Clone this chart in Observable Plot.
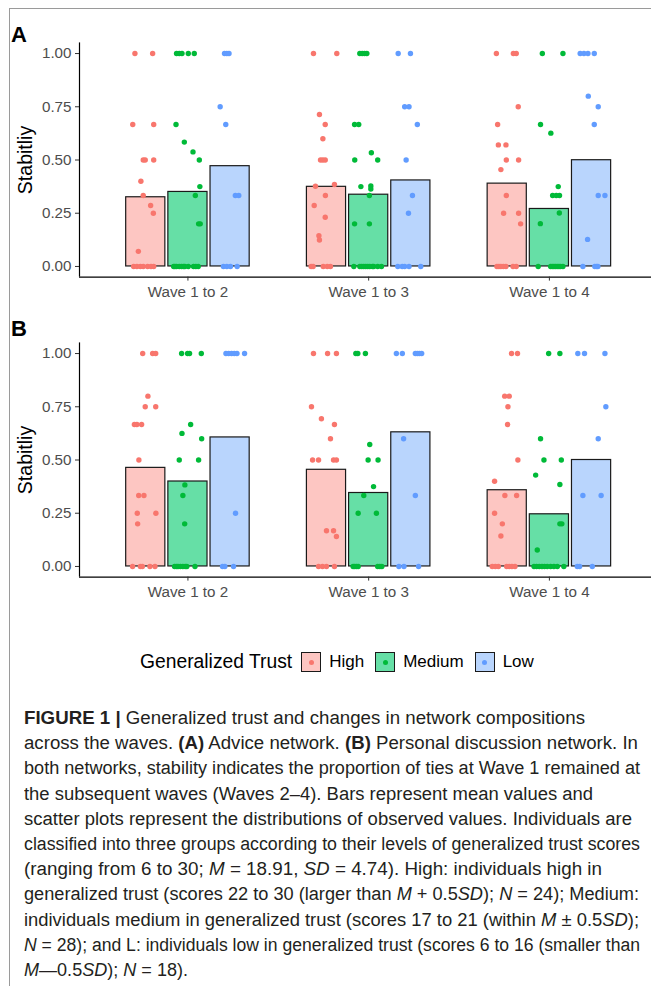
<!DOCTYPE html>
<html>
<head>
<meta charset="utf-8">
<script src="https://cdn.jsdelivr.net/npm/d3@7"></script>
<script src="https://cdn.jsdelivr.net/npm/@observablehq/plot@0.6"></script>
<style>
  html, body { margin: 0; padding: 0; background: #fff; overflow: hidden; }
  #page { position: relative; width: 651px; height: 986px; font-family: "Liberation Sans", Arial, Helvetica, sans-serif; }
  .frameTop { position: absolute; left: 9px; top: 8px; width: 642px; height: 1px; background: #9a9a9a; }
  .frameLeft { position: absolute; left: 9px; top: 8px; width: 1px; height: 978px; background: #9a9a9a; }
  .panel { position: absolute; left: 0; }
  .letter { position: absolute; left: 11px; font-weight: bold; font-size: 22px; line-height: 22px; color: #000; }
  #legend { position: absolute; left: 140px; top: 650px; height: 24px; display: flex; align-items: center; color: #000; }
  #legend .title { font-size: 19.3px; margin-right: 9px; }
  #legend .key { width: 20px; height: 20px; border: 1.3px solid #1a1a1a; position: relative; box-sizing: border-box; margin-right: 8px; }
  #legend .key span { position: absolute; left: 50%; top: 50%; width: 5px; height: 5px; margin: -2.5px 0 0 -2.5px; border-radius: 50%; }
  #legend .lab { font-size: 17px; margin-right: 11px; }
  #caption { position: absolute; left: 24px; top: 706px; font-size: 18px; line-height: 25.2px; color: #231f20; white-space: nowrap; }
  #caption div { display: block; height: 25.2px; }
  #caption div span.ln { display: inline-block; transform-origin: 0 50%; }
</style>
</head>
<body>
<div id="page">
  <div class="frameTop"></div>
  <div class="frameLeft"></div>
  <div id="panelA" class="panel" style="top:0px"></div>
  <div id="panelB" class="panel" style="top:300px"></div>
  <div class="letter" style="top:24px">A</div>
  <div class="letter" style="top:318px">B</div>
  <div id="legend"></div>
  <div id="caption">
    <div><span class="ln"><b>FIGURE 1 |</b> Generalized trust and changes in network compositions</span></div>
    <div><span class="ln">across the waves. <b>(A)</b> Advice network. <b>(B)</b> Personal discussion network. In</span></div>
    <div><span class="ln">both networks, stability indicates the proportion of ties at Wave 1 remained at</span></div>
    <div><span class="ln">the subsequent waves (Waves 2–4). Bars represent mean values and</span></div>
    <div><span class="ln">scatter plots represent the distributions of observed values. Individuals are</span></div>
    <div><span class="ln">classified into three groups according to their levels of generalized trust scores</span></div>
    <div><span class="ln">(ranging from 6 to 30; <i>M</i> = 18.91, <i>SD</i> = 4.74). High: individuals high in</span></div>
    <div><span class="ln">generalized trust (scores 22 to 30 (larger than <i>M</i> + 0.5<i>SD</i>); <i>N</i> = 24); Medium:</span></div>
    <div><span class="ln">individuals medium in generalized trust (scores 17 to 21 (within <i>M</i> ± 0.5<i>SD</i>);</span></div>
    <div><span class="ln"><i>N</i> = 28); and L: individuals low in generalized trust (scores 6 to 16 (smaller than</span></div>
    <div><span class="ln"><i>M</i>—0.5<i>SD</i>); <i>N</i> = 18).</span></div>
  </div>
</div>
<script>
// ---------------- data ----------------
const waves = ["Wave 1 to 2", "Wave 1 to 3", "Wave 1 to 4"];
const groups = ["High", "Medium", "Low"];
const legendTitle = "Generalized Trust";
const yLabel = "Stabitliy";
const yTicks = [0, 0.25, 0.5, 0.75, 1];

// bar heights (group means), per wave
const meansA_High   = [0.325, 0.374, 0.389];
const meansA_Medium = [0.350, 0.337, 0.270];
const meansA_Low    = [0.471, 0.404, 0.499];
const meansB_High   = [0.463, 0.454, 0.358];
const meansB_Medium = [0.399, 0.345, 0.245];
const meansB_Low    = [0.606, 0.630, 0.500];

// observed values per wave: [jitter (fraction of a category), stability]
const pointsA_High = [
  [[-0.060,1],[0.038,1],[-0.072,0.667],[0.044,0.667],[-0.014,0.5],[-0.003,0.5],[0.044,0.5],[-0.027,0.40],[-0.014,0.333],[0.027,0.286],[0.042,0.25],[-0.041,0.071],[-0.067,0],[-0.049,0],[-0.030,0],[-0.014,0],[0.010,0],[0.029,0],[0.044,0]],
  [[-0.072,1],[0.057,1],[-0.039,0.714],[-0.007,0.667],[-0.020,0.60],[-0.033,0.5],[-0.020,0.5],[-0.007,0.5],[-0.061,0.377],[0.044,0.385],[-0.006,0.333],[-0.068,0.286],[-0.007,0.231],[-0.042,0.144],[-0.039,0.124],[-0.085,0],[-0.074,0],[-0.018,0],[0.004,0],[0.022,0]],
  [[-0.060,1],[0.034,1],[0.050,1],[0.061,0.75],[-0.053,0.667],[-0.049,0.571],[-0.007,0.571],[-0.005,0.5],[0.063,0.5],[-0.035,0.455],[-0.005,0.333],[-0.020,0.25],[0.063,0.25],[0.074,0.2],[-0.057,0],[-0.046,0],[-0.035,0],[-0.022,0],[-0.007,0],[0.032,0],[0.050,0]]
];
const pointsA_Medium = [
  [[-0.063,1],[-0.048,1],[-0.033,1],[0.002,1],[0.035,1],[-0.066,0.667],[-0.020,0.584],[0.028,0.538],[0.063,0.5],[0.066,0.375],[0.041,0.333],[0.059,0.2],[0.068,0.2],[-0.079,0],[-0.072,0],[-0.063,0],[-0.048,0],[-0.035,0],[-0.024,0],[-0.017,0],[0.002,0],[0.031,0],[0.044,0],[0.057,0]],
  [[-0.049,1],[-0.036,1],[-0.023,1],[-0.010,1],[-0.078,0.667],[-0.055,0.667],[0.015,0.534],[-0.077,0.5],[0.050,0.5],[-0.043,0.375],[0.012,0.378],[0.012,0.364],[0.004,0.333],[-0.078,0.2],[0.004,0.2],[-0.082,0],[-0.049,0],[-0.038,0],[-0.027,0],[-0.016,0],[-0.005,0],[0.006,0],[0.021,0],[0.028,0],[0.050,0],[0.071,0]],
  [[-0.039,1],[0.075,1],[-0.049,0.667],[0.008,0.626],[0.049,0.375],[0.018,0.333],[0.038,0.333],[0.056,0.333],[0.055,0.251],[-0.050,0.201],[-0.062,0],[0.007,0],[0.016,0],[0.025,0],[0.034,0],[0.043,0],[0.053,0],[0.062,0],[0.075,0]]
];
const pointsA_Low = [
  [[-0.031,1],[-0.018,1],[-0.006,1],[-0.055,0.75],[-0.024,0.667],[0.029,0.333],[0.048,0.333],[-0.037,0],[-0.018,0],[0.002,0],[0.039,0]],
  [[-0.070,1],[-0.002,1],[-0.034,0.75],[-0.010,0.75],[0.036,0.667],[-0.026,0.5],[0.009,0.333],[-0.013,0.25],[-0.072,0],[-0.048,0],[-0.034,0],[-0.010,0],[0.055,0]],
  [[-0.063,1],[-0.042,1],[-0.020,1],[0.015,1],[-0.018,0.8],[0.037,0.75],[0.015,0.667],[0.037,0.333],[0.074,0.333],[-0.022,0.127],[-0.048,0],[0.018,0],[0.028,0],[0.035,0]]
];
const pointsB_High = [
  [[-0.017,1],[0.038,1],[0.055,1],[0.012,0.8],[-0.003,0.75],[0.055,0.75],[-0.063,0.667],[-0.049,0.667],[-0.023,0.667],[-0.038,0.5],[-0.039,0.333],[-0.010,0.333],[-0.047,0.25],[0.056,0.25],[-0.045,0.2],[-0.073,0],[-0.030,0],[-0.019,0],[0.023,0],[0.051,0]],
  [[-0.072,1],[0.006,1],[0.055,1],[-0.083,0.75],[-0.028,0.694],[0.044,0.667],[0.022,0.6],[-0.077,0.5],[-0.044,0.5],[0.039,0.5],[0.055,0.5],[0.000,0.168],[0.039,0.168],[0.055,0.141],[-0.044,0],[-0.022,0],[0.000,0],[0.044,0]],
  [[0.024,1],[0.057,1],[-0.014,0.8],[0.011,0.8],[0.004,0.75],[0.002,0.667],[0.059,0.5],[-0.070,0.4],[-0.013,0.333],[0.052,0.333],[-0.070,0.25],[-0.027,0.2],[-0.035,0.143],[-0.083,0],[-0.066,0],[-0.049,0],[-0.003,0],[0.011,0],[0.026,0],[0.043,0]]
];
const pointsB_Medium = [
  [[-0.035,1],[-0.002,1],[0.009,1],[0.074,1],[0.015,0.667],[-0.033,0.625],[0.076,0.6],[-0.048,0.5],[0.059,0.5],[-0.017,0.383],[-0.028,0.333],[-0.018,0.2],[-0.074,0],[-0.064,0],[-0.055,0],[-0.042,0],[-0.028,0],[-0.015,0],[-0.006,0],[0.039,0]],
  [[-0.071,1],[-0.060,1],[-0.018,1],[0.006,0.573],[-0.003,0.5],[0.052,0.5],[0.027,0.375],[-0.027,0.333],[-0.058,0.25],[0.043,0.25],[-0.086,0],[-0.077,0],[-0.067,0],[-0.058,0],[0.050,0],[0.062,0],[0.073,0]],
  [[-0.004,1],[0.058,1],[-0.049,0.6],[-0.030,0.5],[0.066,0.5],[-0.076,0.429],[0.058,0.385],[0.058,0.2],[0.069,0.2],[-0.067,0.077],[-0.085,0],[-0.071,0],[-0.056,0],[-0.041,0],[-0.027,0],[-0.012,0],[0.007,0],[0.025,0],[0.044,0],[0.080,0]]
];
const pointsB_Low = [
  [[-0.023,1],[-0.008,1],[0.008,1],[0.023,1],[0.038,1],[0.080,1],[0.030,0.25],[-0.042,0],[-0.029,0],[0.019,0]],
  [[-0.080,1],[-0.047,1],[0.025,1],[0.036,1],[0.047,1],[0.060,1],[-0.040,0.6],[0.025,0.333],[-0.066,0],[-0.038,0],[0.043,0]],
  [[-0.076,1],[-0.039,1],[0.074,1],[0.079,0.75],[0.037,0.6],[-0.048,0.333],[0.053,0.333],[-0.079,0],[-0.066,0],[0.004,0]]
];

// ---------------- styles ----------------
const pointColors = ["#F8766D", "#00BA38", "#619CFF"];
const barFills    = ["#FDC6C2", "#66DFA6", "#B9D5FD"];
const FONT = '"Liberation Sans", Arial, Helvetica, sans-serif';
const DODGE = 0.7 / 3;          // dodge width 0.7 split into 3 groups
const HALF = 0.65 / 3 / 2;      // bar width 0.65 (dodged)

function panel(means, points) {
  const bars = [], pts = [];
  groups.forEach((g, gi) => {
    means[gi].forEach((m, wi) => bars.push({group: g, gi, wave: wi + 1, mean: m}));
    points[gi].forEach((list, wi) => list.forEach(([j, v]) => pts.push({group: g, gi, wave: wi + 1, jitter: j, value: v})));
  });
  const cx = d => d.wave + (d.gi - 1) * DODGE;
  const marks = [];
  groups.forEach((g, gi) => {
    marks.push(Plot.rect(bars.filter(d => d.gi === gi), {
      x1: d => cx(d) - HALF, x2: d => cx(d) + HALF, y1: d => 0, y2: "mean",
      fill: barFills[gi], stroke: "#1a1a1a", strokeWidth: 1.2
    }));
  });
  groups.forEach((g, gi) => {
    marks.push(Plot.dot(pts.filter(d => d.gi === gi), {
      x: d => cx(d) + d.jitter, y: "value", r: 2.7, fill: pointColors[gi], stroke: "none"
    }));
  });
  const xMin = 0.4, xMax = 3.565, yMin = -0.05, yMax = 1.05;
  marks.push(
    Plot.ruleX([xMin], {stroke: "#000", strokeWidth: 1.2}),
    Plot.ruleY([yMin], {stroke: "#000", strokeWidth: 1.2}),
    Plot.axisY(yTicks, {tickSize: 4, tickPadding: 4, tickFormat: d3.format(".2f"), fontSize: 15.2, fill: "#4d4d4d", stroke: "#333", label: null}),
    Plot.axisX([1, 2, 3], {tickSize: 4, tickPadding: 5, tickFormat: i => waves[i - 1], fontSize: 15.2, fill: "#4d4d4d", stroke: "#333", label: null}),
    Plot.text([yLabel], {frameAnchor: "left", textAnchor: "middle", rotate: -90, dx: -54, fontSize: 19.5, fill: "#000"})
  );
  return Plot.plot({
    width: 651, height: 300,
    marginLeft: 79, marginRight: 0, marginTop: 42.4, marginBottom: 23.4,
    x: {domain: [xMin, xMax], axis: null},
    y: {domain: [yMin, yMax], axis: null},
    style: {fontFamily: FONT, background: "transparent", overflow: "visible"},
    marks
  });
}

document.getElementById("panelA").appendChild(panel([meansA_High, meansA_Medium, meansA_Low], [pointsA_High, pointsA_Medium, pointsA_Low]));
document.getElementById("panelB").appendChild(panel([meansB_High, meansB_Medium, meansB_Low], [pointsB_High, pointsB_Medium, pointsB_Low]));

// legend
const legend = document.getElementById("legend");
const t = document.createElement("div"); t.className = "title"; t.textContent = legendTitle; legend.appendChild(t);
groups.forEach((g, gi) => {
  const k = document.createElement("div"); k.className = "key"; k.style.background = barFills[gi];
  const s = document.createElement("span"); s.style.background = pointColors[gi]; k.appendChild(s);
  legend.appendChild(k);
  const l = document.createElement("div"); l.className = "lab"; l.textContent = g; legend.appendChild(l);
});

// caption: each line condensed to the width it has in the reference
const lineWidths = [561, 614, 616, 569, 608, 616, 578, 615, 615, 616, 164];
document.querySelectorAll("#caption span.ln").forEach((el, i) => {
  const w = el.getBoundingClientRect().width;
  el.style.transform = `scaleX(${lineWidths[i] / w})`;
});
</script>
</body>
</html>
